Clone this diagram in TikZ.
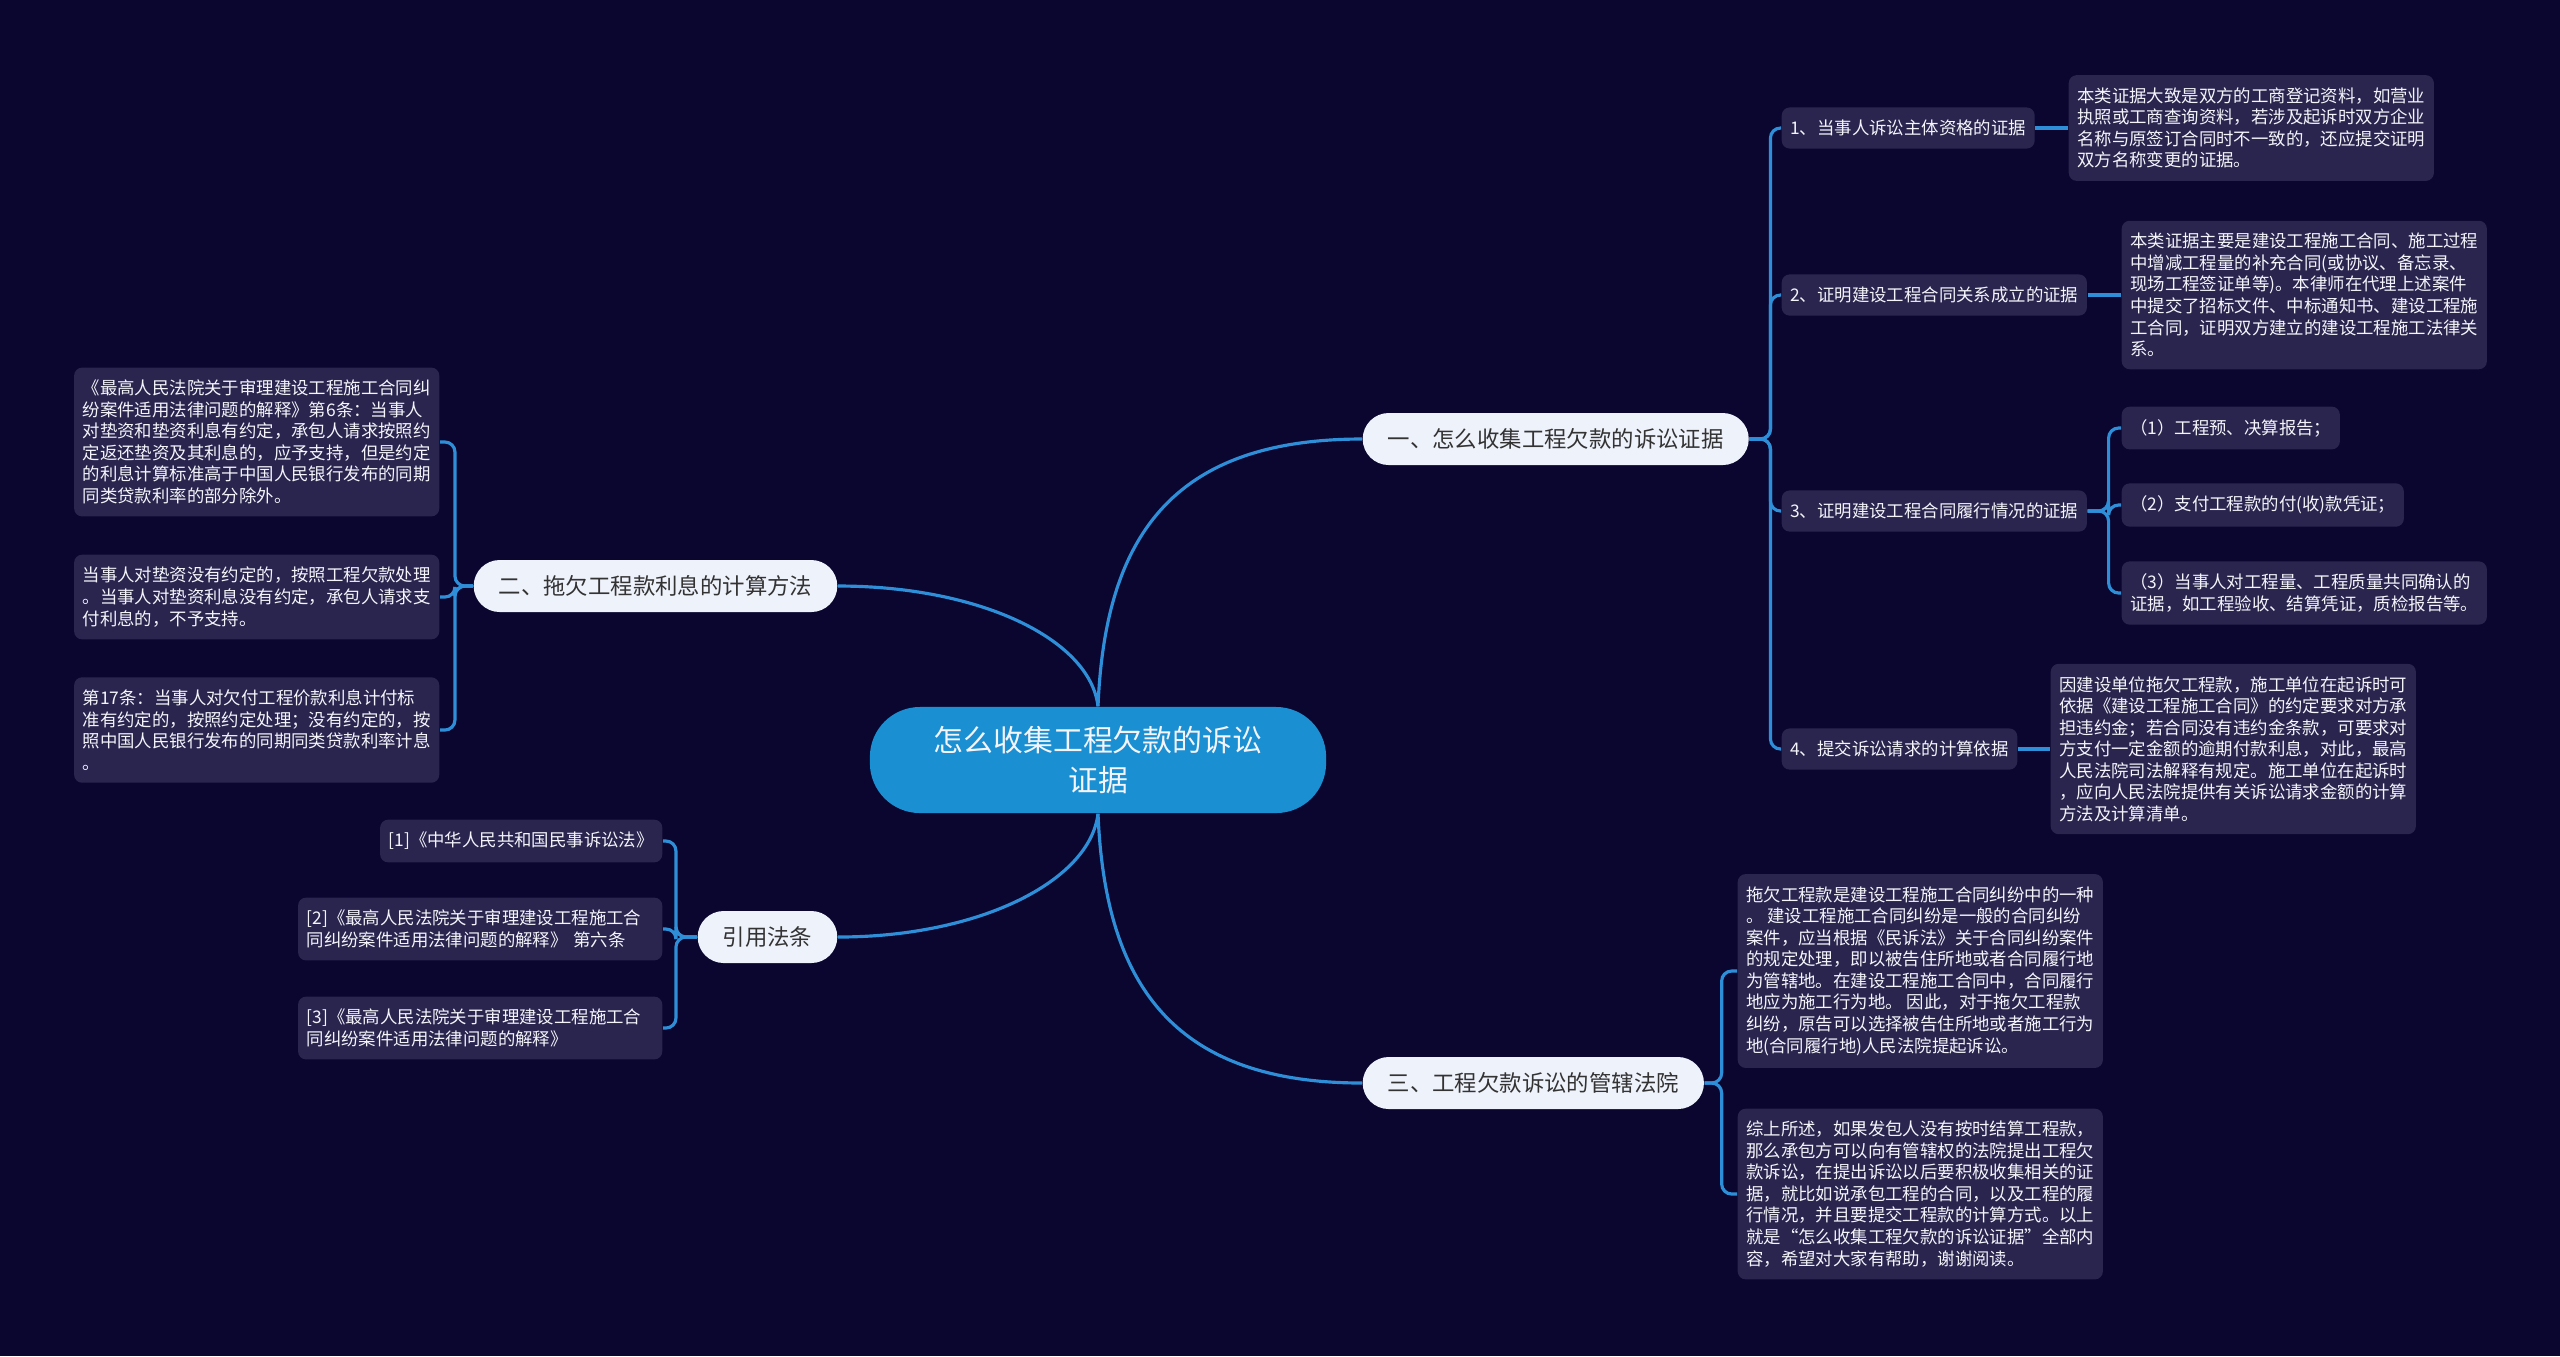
\documentclass[tikz,border=0pt]{standalone}
\usepackage{fontspec}
\newfontfamily\cjkfont{Noto Sans CJK SC}
\usetikzlibrary{calc}
\definecolor{bgcolor}{HTML}{0A0630}
\definecolor{boxcolor}{HTML}{29254F}
\definecolor{linecolor}{HTML}{2E8FD8}
\definecolor{rootcolor}{HTML}{1A8FD2}
\definecolor{topiccolor}{HTML}{EEF2FB}
\definecolor{topictext}{HTML}{333333}
\definecolor{itemtext}{HTML}{F4F4FA}

\begin{document}
\begin{tikzpicture}[
    x=0.01cm, y=-0.01cm,
    every node/.style={font=\cjkfont},
    link/.style={draw=linecolor, line width=0.9pt},
    branch/.style={link, rounded corners=0.1cm},
    rootnode/.style={rectangle, fill=rootcolor, text=itemtext, rounded corners=0.5cm,
        minimum width=4.56cm, minimum height=1.06cm, align=center,
        font=\cjkfont\fontsize{8.5pt}{11.4pt}\selectfont},
    topic/.style={rectangle, fill=topiccolor, text=topictext, rounded corners=0.26cm,
        minimum height=0.52cm, inner xsep=0.25cm,
        font=\cjkfont\fontsize{6.37pt}{7.6pt}\selectfont},
    item/.style={rectangle, fill=boxcolor, text=itemtext, rounded corners=0.08cm,
        inner xsep=0.085cm, inner ysep=0.125cm, align=left,
        font=\cjkfont\fontsize{4.95pt}{6.12pt}\selectfont},
]

% page
\fill[bgcolor] (0,0) rectangle (2560,1356);

% ============================================================ centre and topics
\node[rootnode] (root) at (1098,760) {怎么收集工程欠款的诉讼\\证据};
\node[topic, anchor=west] (t1) at (1362,439) {一、怎么收集工程欠款的诉讼证据};
\node[topic, anchor=east] (t2) at (838,586) {二、拖欠工程款利息的计算方法};
\node[topic, anchor=east] (t3) at (838,937) {引用法条};
\node[topic, anchor=west] (t4) at (1362,1083) {三、工程欠款诉讼的管辖法院};

\draw[link] (root.north) .. controls ($(root.north)+(7,-167)$) and ($(t1.west)+(-192,0)$) .. (t1.west);
\draw[link] (root.north) .. controls ($(root.north)+(-8,-67)$) and ($(t2.east)+(142,0)$) .. (t2.east);
\draw[link] (root.south) .. controls ($(root.south)+(-8,67)$) and ($(t3.east)+(142,0)$) .. (t3.east);
\draw[link] (root.south) .. controls ($(root.south)+(7,167)$) and ($(t4.west)+(-192,0)$) .. (t4.west);

% ============================================================ 一
\node[item, anchor=west] (s1) at (1781,128) {1、当事人诉讼主体资格的证据};
\node[item, anchor=west] (s2) at (1781,295) {2、证明建设工程合同关系成立的证据};
\node[item, anchor=west] (s3) at (1781,511) {3、证明建设工程合同履行情况的证据};
\node[item, anchor=west] (s4) at (1781,749) {4、提交诉讼请求的计算依据};
\foreach \n in {s1,s2,s3,s4}{
    \draw[branch] (t1.east) -- ++(21,0) |- (\n.west);
}

\node[item, anchor=west] (l1) at (2068,128)
    {本类证据大致是双方的工商登记资料，如营业\\执照或工商查询资料，若涉及起诉时双方企业\\名称与原签订合同时不一致的，还应提交证明\\双方名称变更的证据。};
\node[item, anchor=west] (l2) at (2121,295)
    {本类证据主要是建设工程施工合同、施工过程\\中增减工程量的补充合同(或协议、备忘录、\\现场工程签证单等)。本律师在代理上述案件\\中提交了招标文件、中标通知书、建设工程施\\工合同，证明双方建立的建设工程施工法律关\\系。};
\node[item, anchor=west] (l4) at (2050,749)
    {因建设单位拖欠工程款，施工单位在起诉时可\\依据《建设工程施工合同》的约定要求对方承\\担违约金；若合同没有违约金条款，可要求对\\方支付一定金额的逾期付款利息，对此，最高\\人民法院司法解释有规定。施工单位在起诉时\\，应向人民法院提供有关诉讼请求金额的计算\\方法及计算清单。};
\draw[link] (s1.east) -- (l1.west);
\draw[link] (s2.east) -- (l2.west);
\draw[link] (s4.east) -- (l4.west);

\node[item, anchor=west] (p1) at (2121,428) {（1）工程预、决算报告；};
\node[item, anchor=west] (p2) at (2121,505) {（2）支付工程款的付(收)款凭证；};
\node[item, anchor=west] (p3) at (2121,593)
    {（3）当事人对工程量、工程质量共同确认的\\证据，如工程验收、结算凭证，质检报告等。};
\foreach \n in {p1,p2,p3}{
    \draw[branch] (s3.east) -- ++(21,0) |- (\n.west);
}

% ============================================================ 二
\node[item, anchor=east] (r1) at (440,442)
    {《最高人民法院关于审理建设工程施工合同纠\\纷案件适用法律问题的解释》第6条：当事人\\对垫资和垫资利息有约定，承包人请求按照约\\定返还垫资及其利息的，应予支持，但是约定\\的利息计算标准高于中国人民银行发布的同期\\同类贷款利率的部分除外。};
\node[item, anchor=east] (r2) at (440,597)
    {当事人对垫资没有约定的，按照工程欠款处理\\。当事人对垫资利息没有约定，承包人请求支\\付利息的，不予支持。};
\node[item, anchor=east] (r3) at (440,730)
    {第17条：当事人对欠付工程价款利息计付标\\准有约定的，按照约定处理；没有约定的，按\\照中国人民银行发布的同期同类贷款利率计息\\。};
\foreach \n in {r1,r2,r3}{
    \draw[branch] (t2.west) -- ++(-18,0) |- (\n.east);
}

% ============================================================ 引用法条
\node[item, anchor=east] (f1) at (663,841) {[1]《中华人民共和国民事诉讼法》};
\node[item, anchor=east, text width=3.47cm] (f2) at (663,929)
    {[2]《最高人民法院关于审理建设工程施工合\\同纠纷案件适用法律问题的解释》 第六条};
\node[item, anchor=east, text width=3.47cm] (f3) at (663,1028)
    {[3]《最高人民法院关于审理建设工程施工合\\同纠纷案件适用法律问题的解释》};
\foreach \n in {f1,f2,f3}{
    \draw[branch] (t3.west) -- ++(-21,0) |- (\n.east);
}

% ============================================================ 三
\node[item, anchor=west] (c1) at (1737,971)
    {拖欠工程款是建设工程施工合同纠纷中的一种\\。 建设工程施工合同纠纷是一般的合同纠纷\\案件，应当根据《民诉法》关于合同纠纷案件\\的规定处理，即以被告住所地或者合同履行地\\为管辖地。在建设工程施工合同中，合同履行\\地应为施工行为地。 因此，对于拖欠工程款\\纠纷，原告可以选择被告住所地或者施工行为\\地(合同履行地)人民法院提起诉讼。};
\node[item, anchor=west] (c2) at (1737,1194)
    {综上所述，如果发包人没有按时结算工程款，\\那么承包方可以向有管辖权的法院提出工程欠\\款诉讼，在提出诉讼以后要积极收集相关的证\\据，就比如说承包工程的合同，以及工程的履\\行情况，并且要提交工程款的计算方式。以上\\就是“怎么收集工程欠款的诉讼证据”全部内\\容，希望对大家有帮助，谢谢阅读。};
\foreach \n in {c1,c2}{
    \draw[branch] (t4.east) -- ++(17,0) |- (\n.west);
}

\end{tikzpicture}
\end{document}
